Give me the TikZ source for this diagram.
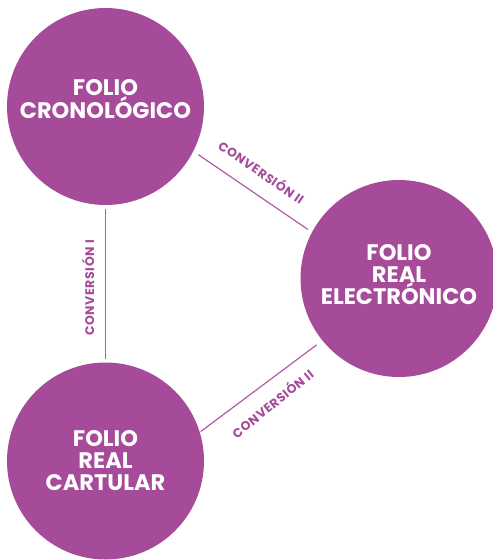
\documentclass[tikz,border=0pt]{standalone}
\usepackage{fontspec}
\setmainfont{Poppins}
\newfontfamily\labelfont[LetterSpace=5]{Poppins}
\definecolor{fpurple}{HTML}{A64A9A}
\tikzset{
  circ/.style={circle, fill=fpurple, minimum size=197pt, inner sep=0pt},
  circtext/.style={text=white, align=center, font=\bfseries\fontsize{22.5}{22}\selectfont, inner sep=0pt},
  conn/.style={draw=fpurple!90!white, line width=1.2pt},
  convlabel/.style={text=fpurple, font=\labelfont\bfseries\fontsize{12.5}{13}\selectfont, inner sep=0pt}
}
\begin{document}
\begin{tikzpicture}[x=1pt,y=-1pt]
\useasboundingbox (0,0) rectangle (493,560);
\clip (0,0) rectangle (493,560);
\node[circ] (A) at (105.5,106.5) {};
\node[circ] (B) at (399,278.5) {};
\node[circ] (C) at (105.5,461) {};
\node[circtext] (tA) at (105.5,99) {FOLIO\\CRONOLÓGICO};
\node[circtext] (tB) at (399,275) {FOLIO\\REAL\\ELECTRÓNICO};
\node[circtext] (tC) at (105.5,460.5) {FOLIO\\REAL\\CARTULAR};
\draw[conn, shorten <=4pt, shorten >=3pt] (A.-90) -- (C.90);
\draw[conn, shorten <=6pt, shorten >=5pt] (A.-27) -- (B.152);
\draw[conn, shorten <=1pt, shorten >=7pt] (C.17) -- (B.219);
\node[convlabel, rotate=-34.4] (l1) at (262,171.5) {CONVERSIÓN II};
\node[convlabel, rotate=90] (l2) at (88,288) {CONVERSIÓN I};
\node[convlabel, rotate=39] (l3) at (272,403) {CONVERSIÓN II};
\end{tikzpicture}
\end{document}
